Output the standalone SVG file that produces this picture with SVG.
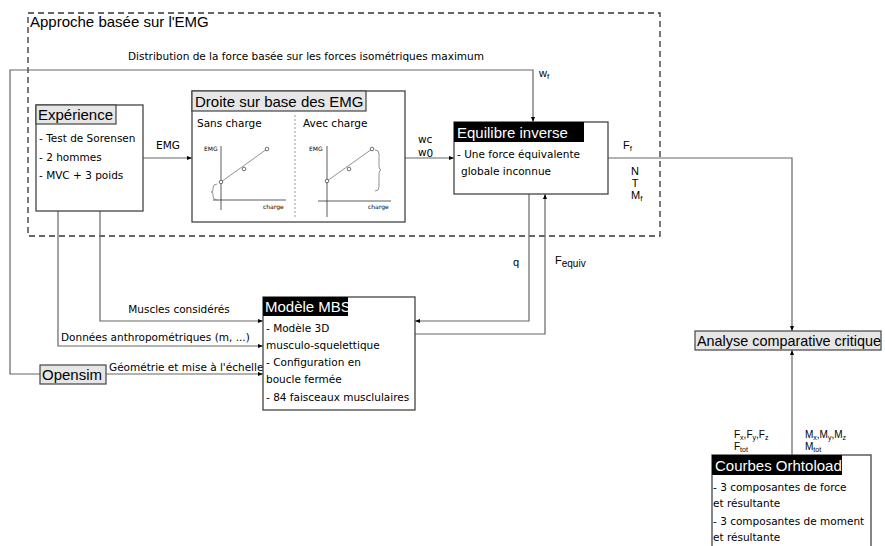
<svg xmlns="http://www.w3.org/2000/svg" width="885" height="546" viewBox="0 0 885 546">
<defs>
<style>
.t{font-family:"Liberation Sans",Arial,sans-serif;font-size:15px;fill:#000}
.tw{font-family:"Liberation Sans",Arial,sans-serif;font-size:15px;fill:#fff}
.b{font-family:"DejaVu Sans",Verdana,sans-serif;font-size:10.5px;fill:#000}
.s{font-family:"Liberation Sans",Arial,sans-serif;font-size:11px;fill:#000}
.xs{font-family:"Liberation Sans",Arial,sans-serif;font-size:10px;fill:#000}
.tiny{font-family:"DejaVu Sans",Verdana,sans-serif;font-size:6px;fill:#000}
.box{fill:#fff;stroke:#444;stroke-width:1.3}
.hg{fill:#e6e6e6;stroke:#444;stroke-width:1.2}
.hb{fill:#000}
.c{fill:none;stroke:#666;stroke-width:1.2}
.g{fill:none;stroke:#333;stroke-width:0.8}
.gl{fill:none;stroke:#777;stroke-width:0.8}
</style>
<marker id="ar" viewBox="0 0 10 10" refX="10" refY="5" markerWidth="5" markerHeight="5" orient="auto" markerUnits="userSpaceOnUse">
<path d="M0,1 L10,5 L0,9 z" fill="#000"/>
</marker>
</defs>
<rect width="885" height="546" fill="#fff"/>

<g id="emg-zone">
<rect x="28" y="13" width="632" height="223" fill="none" stroke="#333" stroke-width="1.3" stroke-dasharray="6 4"/>
<text class="t" x="30" y="27">Approche basée sur l'EMG</text>
</g>

<g id="connectors">
<polyline class="c" points="40,374 10,374 10,70 533,70 533,122" marker-end="url(#ar)"/>
<text class="b" x="306" y="60" text-anchor="middle">Distribution de la force basée sur les forces isométriques maximum</text>
<text class="s" x="539" y="77">w<tspan font-size="8" dy="2">f</tspan></text>
<line class="c" x1="143" y1="158" x2="192" y2="158" marker-end="url(#ar)"/>
<text class="b" x="168" y="149" text-anchor="middle">EMG</text>
<line class="c" x1="405" y1="158" x2="454" y2="158" marker-end="url(#ar)"/>
<text class="b" x="418" y="143">wc</text>
<text class="b" x="418" y="156">w<tspan dy="1">0</tspan></text>
<polyline class="c" points="608,158 792,158 792,331" marker-end="url(#ar)"/>
<text class="s" x="623" y="149">F<tspan font-size="8" dy="2">f</tspan></text>
<text class="s" x="635" y="175" text-anchor="middle">N</text>
<text class="s" x="635" y="187" text-anchor="middle">T</text>
<text class="s" x="631" y="199">M<tspan font-size="8" dy="2">f</tspan></text>
<polyline class="c" points="529,194 529,321 415,321" marker-end="url(#ar)"/>
<text class="s" x="513" y="266">q</text>
<polyline class="c" points="415,334 545,334 545,194" marker-end="url(#ar)"/>
<text class="s" x="555" y="264">F<tspan font-size="10" dy="3">equiv</tspan></text>
<polyline class="c" points="100,211 100,321 263,321" marker-end="url(#ar)"/>
<text class="b" x="179" y="313" text-anchor="middle">Muscles considérés</text>
<polyline class="c" points="58,211 58,346 263,346" marker-end="url(#ar)"/>
<text class="b" x="61" y="341">Données anthropométriques (m, ...)</text>
<line class="c" x1="106" y1="374" x2="263" y2="374" marker-end="url(#ar)"/>
<text class="b" x="109" y="371">Géométrie et mise à l'échelle</text>
<line class="c" x1="792" y1="455" x2="792" y2="350" marker-end="url(#ar)"/>
<text class="xs" x="734" y="438">F<tspan font-size="7" dy="2">x</tspan><tspan dy="-2">,F</tspan><tspan font-size="7" dy="2">y</tspan><tspan dy="-2">,F</tspan><tspan font-size="7" dy="2">z</tspan></text>
<text class="xs" x="734" y="450">F<tspan font-size="7" dy="2">tot</tspan></text>
<text class="xs" x="805" y="438">M<tspan font-size="7" dy="2">x</tspan><tspan dy="-2">,M</tspan><tspan font-size="7" dy="2">y</tspan><tspan dy="-2">,M</tspan><tspan font-size="7" dy="2">z</tspan></text>
<text class="xs" x="805" y="450">M<tspan font-size="7" dy="2">tot</tspan></text>
</g>

<g id="experience">
<rect class="box" x="36" y="105" width="107" height="106"/>
<rect class="hg" x="36" y="105" width="80" height="19"/>
<text class="t" x="38" y="120">Expérience</text>
<text class="b" x="39" y="142">- Test de Sorensen</text>
<text class="b" x="39" y="161">- 2 hommes</text>
<text class="b" x="39" y="179">- MVC + 3 poids</text>
</g>

<g id="droite">
<rect class="box" x="192" y="91" width="213" height="131"/>
<rect class="hg" x="192" y="91" width="174" height="20"/>
<text class="t" x="195" y="107">Droite sur base des EMG</text>
<text class="b" x="197" y="127">Sans charge</text>
<text class="b" x="303" y="127">Avec charge</text>
<line x1="295" y1="115" x2="295" y2="218" stroke="#999" stroke-width="1" stroke-dasharray="2 2"/>
<text class="tiny" x="204" y="151">EMG</text>
<line class="g" x1="221" y1="146" x2="221" y2="210"/>
<line class="g" x1="213" y1="200" x2="286" y2="200"/>
<line class="gl" x1="221" y1="182" x2="267" y2="149"/>
<circle cx="221" cy="182" r="1.8" fill="#fff" stroke="#333" stroke-width="0.7"/>
<circle cx="244" cy="169" r="1.8" fill="#fff" stroke="#333" stroke-width="0.7"/>
<circle cx="267" cy="149" r="1.8" fill="#fff" stroke="#333" stroke-width="0.7"/>
<path class="gl" d="M217,184 Q213,184 213,188 L213,190 Q213,192 211,192 Q213,192 213,194 L213,196 Q213,200 217,200"/>
<text class="tiny" x="263" y="209">charge</text>
<text class="tiny" x="309" y="151">EMG</text>
<line class="g" x1="327" y1="146" x2="327" y2="217"/>
<line class="g" x1="318" y1="201" x2="391" y2="201"/>
<line class="gl" x1="327" y1="181" x2="372" y2="149"/>
<circle cx="327" cy="181" r="1.8" fill="#fff" stroke="#333" stroke-width="0.7"/>
<circle cx="349" cy="169" r="1.8" fill="#fff" stroke="#333" stroke-width="0.7"/>
<circle cx="372" cy="149" r="1.8" fill="#fff" stroke="#333" stroke-width="0.7"/>
<path class="gl" d="M375,150 Q379,150 379,154 L379,166 Q379,170 381,170 Q379,170 379,174 L379,187 Q379,191 375,191"/>
<text class="tiny" x="368" y="209">charge</text>
</g>

<g id="equilibre">
<rect class="box" x="454" y="122" width="154" height="72"/>
<rect class="hb" x="454" y="122" width="130" height="20"/>
<text class="tw" x="457" y="138">Equilibre inverse</text>
<text class="b" x="457" y="158">- Une force équivalente</text>
<text class="b" x="461" y="175">globale inconnue</text>
</g>

<g id="mbs">
<rect class="box" x="263" y="297" width="152" height="113"/>
<rect class="hb" x="263" y="297" width="85" height="19"/>
<text class="tw" x="265" y="312">Modèle MBS</text>
<text class="b" x="266" y="332">- Modèle 3D</text>
<text class="b" x="266" y="349">musculo-squelettique</text>
<text class="b" x="266" y="366">- Configuration en</text>
<text class="b" x="266" y="383">boucle fermée</text>
<text class="b" x="266" y="401">- 84 faisceaux musclulaires</text>
</g>

<g id="opensim">
<rect class="hg" x="40" y="365" width="66" height="19"/>
<text class="t" x="42" y="380">Opensim</text>
</g>

<g id="analyse">
<rect class="hg" x="695" y="331" width="186" height="19"/>
<text class="t" x="697" y="346" style="font-size:14.4px">Analyse comparative critique</text>
</g>

<g id="courbes">
<rect class="box" x="712" y="455" width="159" height="110"/>
<rect class="hb" x="712" y="455" width="130" height="20"/>
<text class="tw" x="715" y="471">Courbes Orhtoload</text>
<text class="b" x="713" y="491">- 3 composantes de force</text>
<text class="b" x="713" y="507">et résultante</text>
<text class="b" x="713" y="525">- 3 composantes de moment</text>
<text class="b" x="713" y="541">et résultante</text>
</g>
</svg>
